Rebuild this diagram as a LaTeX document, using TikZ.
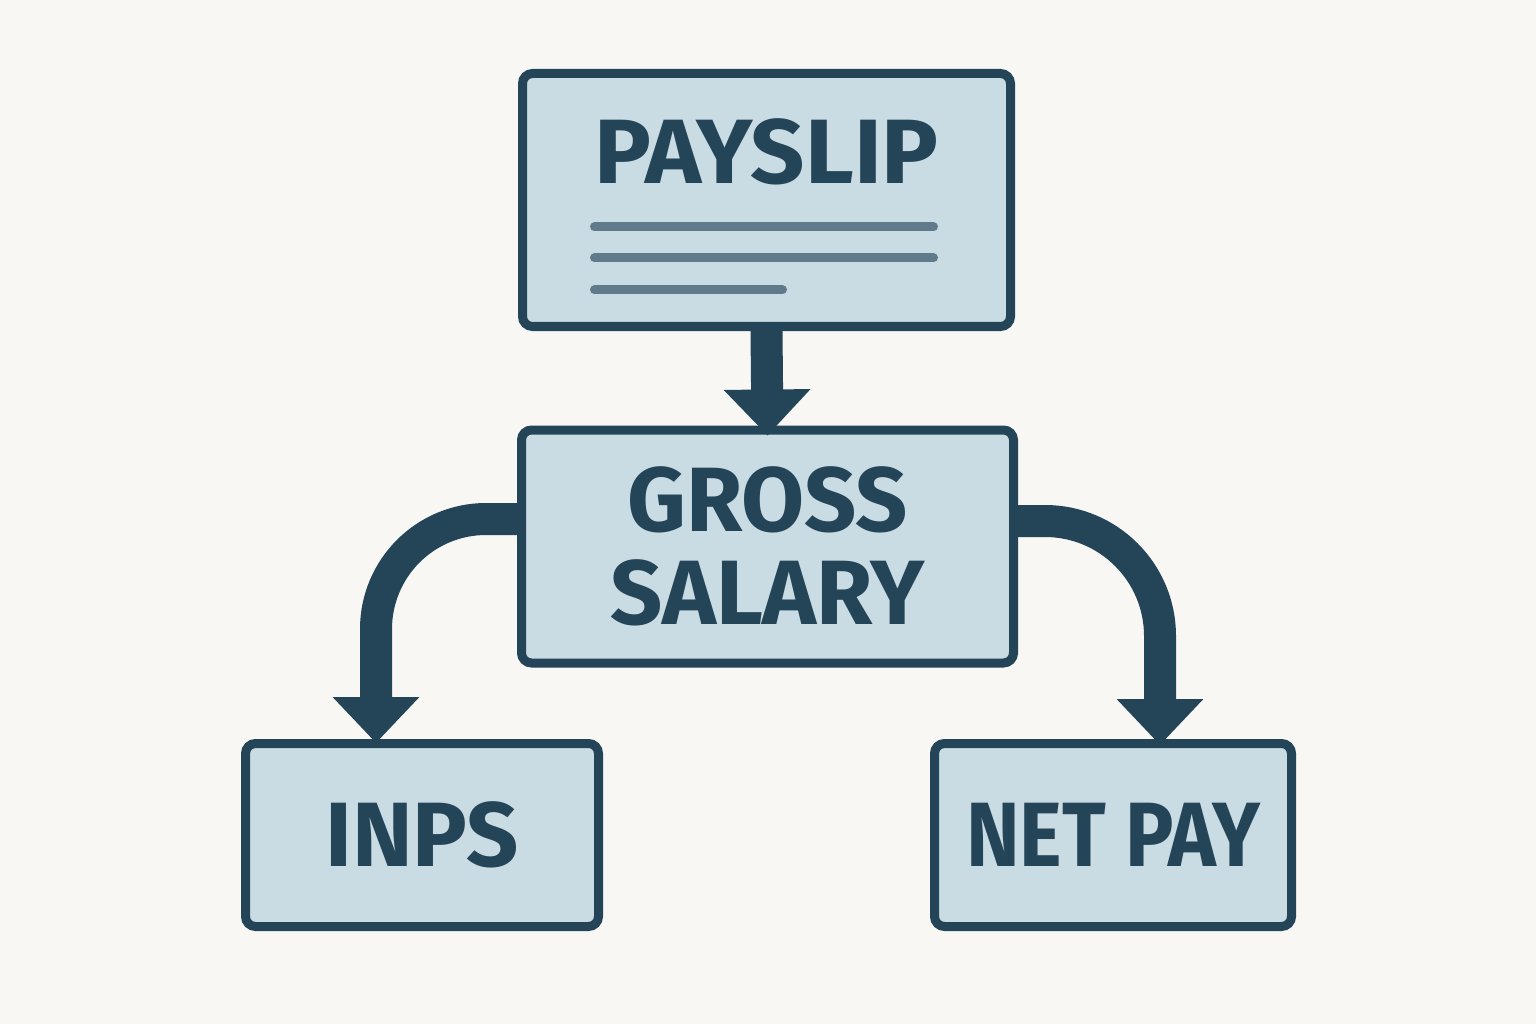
\documentclass[tikz,border=0pt]{standalone}
\usepackage{fontspec}
\setmainfont{Fira Sans}
\definecolor{primcolor}{RGB}{36,68,88}
\definecolor{boxcolor}{RGB}{201,219,227}
\definecolor{slipcolor}{RGB}{96,122,140}
\definecolor{bgcolor}{RGB}{248,247,243}
\usetikzlibrary{arrows.meta, positioning, calc}

\begin{document}
\begin{tikzpicture}[
    heading/.style={text=primcolor, font=\fontsize{26}{26.5}\selectfont\bfseries, align=center},
    stage/.style={draw=primcolor, fill=boxcolor, line width=0.9mm, rounded corners=1mm, inner sep=0pt, heading},
    flow/.style={draw=primcolor, line width=3.2mm, -{Triangle[width=8.4mm, length=4.6mm]}},
    slipline/.style={draw=slipcolor, line width=0.9mm, line cap=round}]
  \fill[bgcolor] (0,0) rectangle (15.36,10.24);
  \useasboundingbox (0,0) rectangle (15.36,10.24);

  % boxes
  \node[stage, minimum width=4.88cm, minimum height=2.53cm] (payslip) at (7.665,8.24) {};
  \node[heading, anchor=base] (payslipTitle) at ([yshift=-11.45mm]payslip.north) {\scalebox{1.04}[1]{PAYSLIP}};
  \draw[slipline] ([shift={(-1.72,-0.27)}]payslip.center) -- ([shift={(1.67,-0.27)}]payslip.center);
  \draw[slipline] ([shift={(-1.72,-0.58)}]payslip.center) -- ([shift={(1.67,-0.58)}]payslip.center);
  \draw[slipline] ([shift={(-1.72,-0.90)}]payslip.center) -- ([shift={(0.16,-0.90)}]payslip.center);

  \node[stage, minimum width=4.92cm, minimum height=2.33cm] (gross) at (7.675,4.775) {GROSS\\SALARY};
  \node[stage, minimum width=3.53cm, minimum height=1.83cm] (inps) at (4.22,1.89) {INPS};
  \node[stage, minimum width=3.57cm, minimum height=1.83cm] (netpay) at (11.13,1.89) {\scalebox{0.885}[1]{NET PAY}};

  % arrows
  \coordinate (inpsIn) at ([xshift=-4.6mm, yshift=-0.4mm]inps.north);
  \coordinate (netpayIn) at ([xshift=4.7mm, yshift=-0.6mm]netpay.north);
  \draw[flow] (payslip.south) -- ([yshift=-1mm]gross.north);
  \draw[flow, rounded corners=11mm] ([yshift=2.75mm]gross.west) -| (inpsIn);
  \draw[flow, rounded corners=11.5mm] ([yshift=2.55mm]gross.east) -| (netpayIn);
\end{tikzpicture}
\end{document}
